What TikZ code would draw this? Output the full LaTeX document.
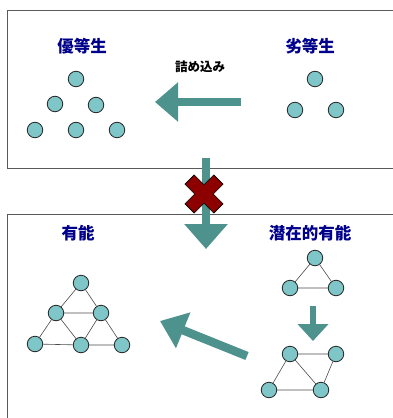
\documentclass[tikz,border=0pt]{standalone}
\usepackage{fontspec}
\newfontfamily\cjk{Noto Sans CJK JP}
\usetikzlibrary{arrows.meta}
\definecolor{arrowc}{RGB}{78,146,142}
\definecolor{ballc}{RGB}{126,198,200}
\definecolor{headc}{RGB}{0,0,140}
\definecolor{framec}{RGB}{90,90,90}
\definecolor{crossc}{RGB}{140,0,0}
\begin{document}
\begin{tikzpicture}[x=1pt,y=-1pt,
  frame/.style={draw=framec,line width=0.9pt},
  ball/.style={circle,minimum size=15.5pt,inner sep=0pt,fill=ballc,draw=black!85,line width=0.8pt},
  edge/.style={draw=black!70,line width=0.6pt},
  heading/.style={font=\cjk\bfseries\fontsize{16.5}{17}\selectfont,text=headc,inner sep=0pt},
  label/.style={font=\cjk\bfseries\fontsize{12.5}{13}\selectfont,text=black,inner sep=0pt},
  blk/.style n args={3}{draw=arrowc,line width=#1pt,-{Triangle[length=#2pt,width=#3pt]}}]
\useasboundingbox (0,0) rectangle (393,418);
\fill[white] (0,0) rectangle (393,418);
\draw[frame] (394,10) -- (7,10) -- (7,168) -- (394,168);
\draw[frame] (394,214) -- (7,214) -- (7,419);

% headings
\node[heading] (h1) at (82,46) {優等生};
\node[heading] (h2) at (310,46) {劣等生};
\node[label] (l1) at (200,67) {詰め込み};
\node[heading] (h3) at (78,233) {有能};
\node[heading] (h4) at (310,233) {潜在的有能};

% top-left balls
\node[ball] (a1) at (76,79) {};
\node[ball] (a2) at (55,104) {};
\node[ball] (a3) at (96,105) {};
\node[ball] (a4) at (35,130) {};
\node[ball] (a5) at (76,130) {};
\node[ball] (a6) at (117,130) {};
% top-right balls
\node[ball] (b1) at (315,79) {};
\node[ball] (b2) at (295,110) {};
\node[ball] (b3) at (336,110) {};

% bottom-left graph
\node[ball] (c1) at (81,283) {};
\node[ball] (c2) at (56,313) {};
\node[ball] (c3) at (101,313) {};
\node[ball] (c4) at (35,344) {};
\node[ball] (c5) at (81,345) {};
\node[ball] (c6) at (122,345) {};
\draw[edge] (c1) -- (c2) (c1) -- (c3) (c2) -- (c3) (c2) -- (c4) (c2) -- (c5)
  (c3) -- (c5) (c3) -- (c6) (c4) -- (c5) (c5) -- (c6);

% right triangle graph
\node[ball] (d1) at (315,258) {};
\node[ball] (d2) at (290,288) {};
\node[ball] (d3) at (336,288) {};
\draw[edge] (d1) -- (d2) (d1) -- (d3) (d2) -- (d3);

% right bottom graph
\node[ball] (e1) at (290,354) {};
\node[ball] (e2) at (336,354) {};
\node[ball] (e3) at (269,390) {};
\node[ball] (e4) at (321,390) {};
\draw[edge] (e1) -- (e2) (e1) -- (e3) (e1) -- (e4) (e2) -- (e4) (e3) -- (e4);

% arrows
\coordinate (p1s) at (241,102);
\coordinate (p1e) at (155,102);
\draw[blk={8}{23}{38}] (p1s) -- (p1e);
\coordinate (p2s) at (206,158);
\coordinate (p2e) at (206,249);
\draw[blk={8}{25}{42}] (p2s) -- (p2e);
\coordinate (p3s) at (313,306);
\coordinate (p3e) at (313,341);
\draw[blk={6}{17}{30}] (p3s) -- (p3e);
\coordinate (p4s) at (247,356);
\coordinate (p4e) at (160,321);
\draw[blk={8.5}{25}{37}] (p4s) -- (p4e);

% red cross
\begin{scope}[shift={(204,194)},rotate=45]
\filldraw[fill=crossc,draw=black,line width=0.6pt]
  (6.5,6.5) -- (20.4,6.5) -- (20.4,-6.5) -- (6.5,-6.5) -- (6.5,-20.4) -- (-6.5,-20.4)
  -- (-6.5,-6.5) -- (-20.4,-6.5) -- (-20.4,6.5) -- (-6.5,6.5) -- (-6.5,20.4) -- (6.5,20.4) -- cycle;
\end{scope}
\end{tikzpicture}
\end{document}
